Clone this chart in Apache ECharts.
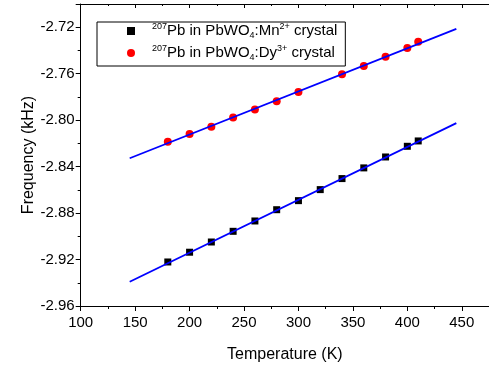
<!DOCTYPE html>
<html>
<head>
<meta charset="utf-8">
<script src="https://cdn.jsdelivr.net/npm/echarts@6/dist/echarts.min.js"></script>
<style>html,body{margin:0;padding:0;background:#fff;}#c{width:489px;height:370px;}</style>
</head>
<body>
<div id="c"></div>
<script>
// Data
const tempsMn = [180, 200, 220, 240, 260, 280, 300, 320, 340, 360, 380, 400, 410];
const freqMn = [-2.9221, -2.9137, -2.9049, -2.8957, -2.8868, -2.8771, -2.8693, -2.8598, -2.8503, -2.8411, -2.8317, -2.8225, -2.8179];
const tempsDy = [180, 200, 220, 240, 260, 280, 300, 340, 360, 380, 400, 410];
const freqDy = [-2.8185, -2.8119, -2.8056, -2.7978, -2.7909, -2.7837, -2.7757, -2.7604, -2.7533, -2.7455, -2.7378, -2.7326];
const fitT = [145, 445];
const fitMn = [-2.9391, -2.8026];
const fitDy = [-2.8328, -2.7214];
const legendNames = ['Mn', 'Dy'];
const legendLabels = {
  Mn: '{sup|207}Pb in PbWO{sub|4}:Mn{sup|2+} crystal',
  Dy: '{sup|207}Pb in PbWO{sub|4}:Dy{sup|3+} crystal'
};
const xTitle = 'Temperature (K)';
const yTitle = 'Frequency (kHz)';

const zip = (a, b) => a.map((v, i) => [v, b[i]]);
const FONT = '"Liberation Sans", Arial, sans-serif';

const chart = echarts.init(document.getElementById('c'), null, {renderer: 'canvas'});
chart.setOption({
  animation: false,
  backgroundColor: '#fff',
  grid: {left: 80.7, right: -2, top: 4, bottom: 64, containLabel: false},
  legend: {
    data: legendNames,
    orient: 'vertical',
    left: 97, top: 22,
    padding: [0, 8, 4, 30],
    itemGap: 4,
    itemWidth: 8, itemHeight: 8,
    borderColor: '#000', borderWidth: 1,
    formatter: n => legendLabels[n],
    textStyle: {
      fontFamily: FONT, fontSize: 15, color: '#000', lineHeight: 18,
      padding: [0, 0, 0, 12],
      rich: {
        sup: {fontFamily: FONT, fontSize: 9, verticalAlign: 'top', lineHeight: 18, color: '#000'},
        sub: {fontFamily: FONT, fontSize: 9, verticalAlign: 'bottom', lineHeight: 18, color: '#000'}
      }
    }
  },
  xAxis: [{
    type: 'value', min: 100, max: 475, interval: 50,
    name: xTitle, nameLocation: 'middle', nameGap: 41, nameMoveOverlap: false,
    nameTextStyle: {fontFamily: FONT, fontSize: 16, color: '#000'},
    axisLine: {show: true, onZero: false, lineStyle: {color: '#000', width: 1}},
    axisTick: {show: true, inside: false, length: 5, lineStyle: {color: '#000'}},
    minorTick: {show: true, splitNumber: 2, length: 3, lineStyle: {color: '#000'}},
    axisLabel: {fontFamily: FONT, fontSize: 15, color: '#000', margin: 9, showMaxLabel: false},
    splitLine: {show: false}
  }, {
    type: 'value', position: 'top', min: 100, max: 475, interval: 50,
    axisLine: {show: true, onZero: false, lineStyle: {color: '#000', width: 1}},
    axisTick: {show: true, inside: true, length: 4, lineStyle: {color: '#000'}},
    minorTick: {show: true, splitNumber: 2, length: 2, lineStyle: {color: '#000'}},
    axisLabel: {show: false},
    splitLine: {show: false}
  }],
  yAxis: [{
    type: 'value', min: -2.96, max: -2.70, interval: 0.04,
    name: yTitle, nameLocation: 'middle', nameGap: 44, nameMoveOverlap: false,
    nameTextStyle: {fontFamily: FONT, fontSize: 16, color: '#000'},
    axisLine: {show: true, onZero: false, lineStyle: {color: '#000', width: 1}},
    axisTick: {show: true, inside: false, length: 5, lineStyle: {color: '#000'}},
    minorTick: {show: true, splitNumber: 2, length: 3, lineStyle: {color: '#000'}},
    axisLabel: {fontFamily: FONT, fontSize: 15, color: '#000', margin: 6, showMaxLabel: false,
      formatter: v => v.toFixed(2)},
    splitLine: {show: false}
  }],
  series: [
    {name: 'Mn', type: 'scatter', symbol: 'rect', symbolSize: 7,
     itemStyle: {color: '#000', opacity: 1}, data: zip(tempsMn, freqMn)},
    {name: 'Dy', type: 'scatter', symbol: 'circle', symbolSize: 8,
     itemStyle: {color: '#ff0000', opacity: 1}, data: zip(tempsDy, freqDy)},
    {name: 'fitMn', type: 'line', showSymbol: false, symbol: 'none',
     lineStyle: {color: '#0000ff', width: 1.8}, data: zip(fitT, fitMn)},
    {name: 'fitDy', type: 'line', showSymbol: false, symbol: 'none',
     lineStyle: {color: '#0000ff', width: 1.8}, data: zip(fitT, fitDy)}
  ]
});
</script>
</body>
</html>
